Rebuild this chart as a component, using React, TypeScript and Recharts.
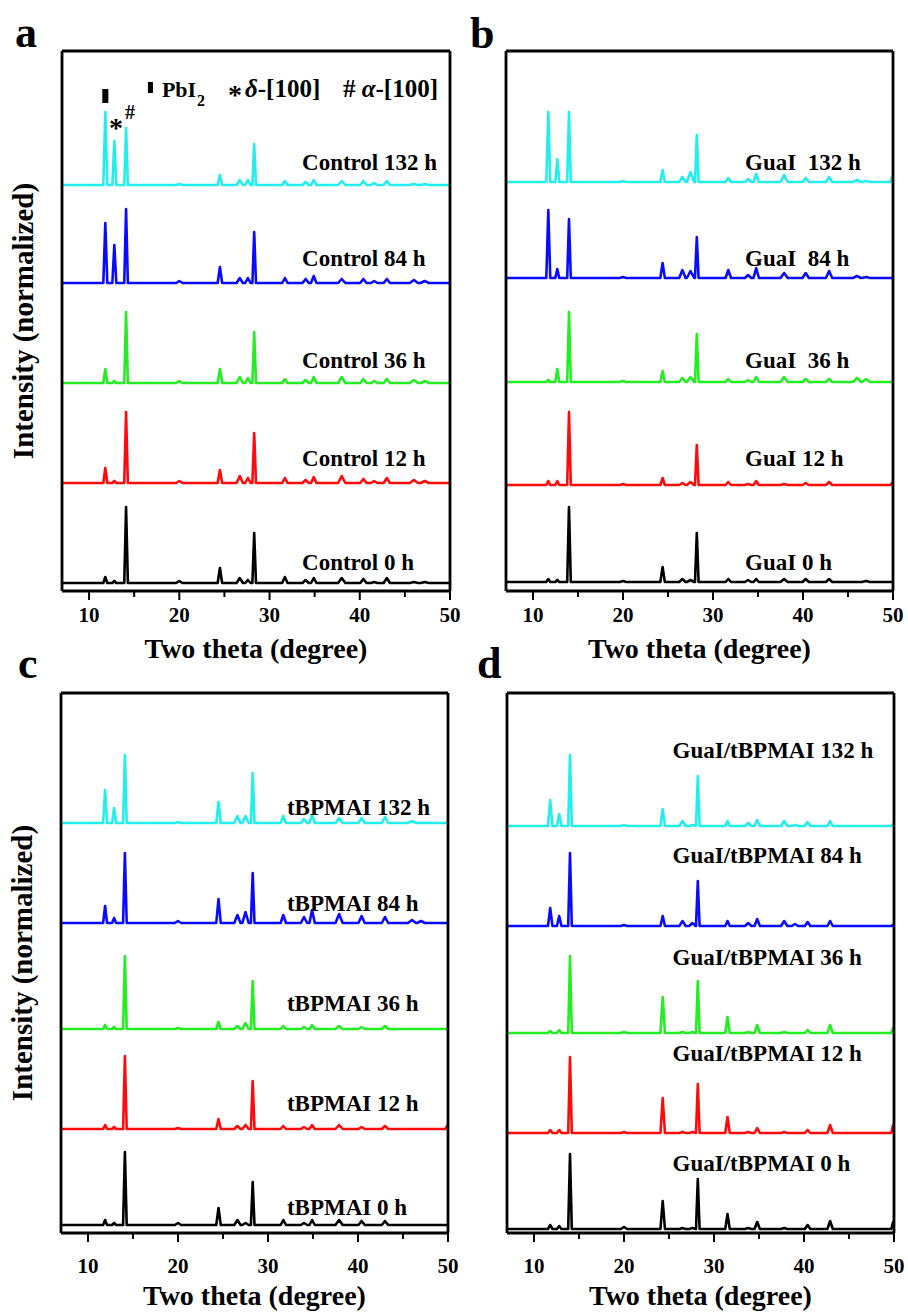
import React from 'react'
import { LineChart, Line, XAxis, YAxis, ReferenceDot } from 'recharts'

const FONT = "'Liberation Serif', 'Times New Roman', Times, serif"

const X_DOMAIN = [7, 50]
const Y_DOMAIN = [0, 54]
const X_TICKS = [10, 15, 20, 25, 30, 35, 40, 45, 50]

// black, red, green, blue, cyan = 0 h, 12 h, 36 h, 84 h, 132 h
const COLORS = ['#000000', '#ff0a0a', '#22ee22', '#0a0aff', '#22eeee']

// ---- panel a : Control ----
const THETA_A = [11.8, 12.8, 14.1, 20.0, 24.5, 26.7, 27.6, 28.3, 31.7, 34.0, 34.9, 38.0, 40.4, 41.6, 43.0, 46.0, 47.2]
const HW_A = [0.22, 0.22, 0.2, 0.35, 0.25, 0.35, 0.3, 0.2, 0.3, 0.35, 0.3, 0.4, 0.35, 0.35, 0.35, 0.45, 0.45]
const CONTROL_0 = [0.6, 0.2, 7.6, 0.2, 1.5, 0.5, 0.3, 5.0, 0.6, 0.3, 0.5, 0.5, 0.4, 0.1, 0.5, 0.1, 0.1]
const CONTROL_12 = [1.5, 0.2, 7.1, 0.2, 1.3, 0.7, 0.5, 5.0, 0.5, 0.3, 0.6, 0.7, 0.4, 0.2, 0.5, 0.3, 0.2]
const CONTROL_36 = [1.4, 0.2, 7.1, 0.2, 1.4, 0.6, 0.5, 5.1, 0.4, 0.3, 0.6, 0.6, 0.4, 0.2, 0.4, 0.3, 0.2]
const CONTROL_84 = [6.0, 3.8, 7.4, 0.2, 1.6, 0.5, 0.5, 5.1, 0.5, 0.4, 0.7, 0.4, 0.4, 0.2, 0.4, 0.3, 0.2]
const CONTROL_132 = [7.3, 4.4, 5.7, 0.1, 1.0, 0.5, 0.5, 4.1, 0.4, 0.3, 0.5, 0.4, 0.4, 0.2, 0.4, 0.1, 0.1]
const BASE_A = [0.8, 10.8, 20.8, 30.8, 40.6]
const NAMES_A = ['Control 0 h', 'Control 12 h', 'Control 36 h', 'Control 84 h', 'Control 132 h']
const LABEL_Y_A = [2.9, 13.3, 23.1, 33.3, 42.9]

// ---- panel b : GuaI ----
const THETA_B = [11.7, 12.7, 14.0, 20.0, 24.4, 26.6, 27.5, 28.2, 31.7, 33.9, 34.8, 37.9, 40.3, 42.9, 46.0, 47.0, 49.9]
const HW_B = [0.22, 0.22, 0.2, 0.35, 0.25, 0.35, 0.4, 0.2, 0.3, 0.35, 0.3, 0.4, 0.35, 0.35, 0.45, 0.45, 0.2]
const GUAI_0 = [0.3, 0.2, 7.5, 0.1, 1.5, 0.3, 0.2, 4.9, 0.3, 0.2, 0.3, 0.3, 0.3, 0.3, 0.0, 0.1, 0.0]
const GUAI_12 = [0.4, 0.4, 7.3, 0.1, 0.7, 0.2, 0.3, 4.0, 0.3, 0.1, 0.4, 0.1, 0.2, 0.3, 0.0, 0.0, 0.2]
const GUAI_36 = [0.2, 1.3, 7.0, 0.1, 1.1, 0.4, 0.5, 4.8, 0.3, 0.2, 0.5, 0.5, 0.3, 0.3, 0.4, 0.3, 0.0]
const GUAI_84 = [6.8, 0.9, 5.9, 0.1, 1.5, 0.8, 0.7, 4.1, 0.8, 0.3, 1.0, 0.5, 0.5, 0.7, 0.2, 0.1, 0.0]
const GUAI_132 = [7.0, 2.3, 7.0, 0.1, 1.2, 0.5, 1.0, 4.7, 0.4, 0.3, 0.8, 0.7, 0.4, 0.5, 0.2, 0.1, 0.5]
const BASE_B = [0.9, 10.6, 20.9, 31.3, 40.9]
const NAMES_B = ['GuaI 0 h', 'GuaI 12 h', 'GuaI  36 h', 'GuaI  84 h', 'GuaI  132 h']
const LABEL_Y_B = [2.9, 13.3, 23.1, 33.3, 42.9]

// ---- panel c : tBPMAI ----
const THETA_C = [11.9, 12.9, 14.1, 20.0, 24.5, 26.6, 27.5, 28.3, 31.7, 34.0, 34.9, 37.9, 40.4, 43.0, 46.0, 47.0, 49.9]
const HW_C = [0.22, 0.22, 0.2, 0.35, 0.25, 0.35, 0.35, 0.2, 0.3, 0.35, 0.3, 0.4, 0.35, 0.35, 0.45, 0.45, 0.2]
const TBPMAI_0 = [0.5, 0.2, 7.3, 0.2, 1.7, 0.5, 0.2, 4.3, 0.5, 0.2, 0.5, 0.5, 0.4, 0.4, 0.0, 0.0, 0.0]
const TBPMAI_12 = [0.4, 0.2, 7.3, 0.1, 1.0, 0.3, 0.4, 4.8, 0.3, 0.2, 0.4, 0.4, 0.2, 0.3, 0.0, 0.0, 0.3]
const TBPMAI_36 = [0.4, 0.2, 7.3, 0.1, 0.7, 0.3, 0.6, 4.8, 0.3, 0.2, 0.4, 0.3, 0.2, 0.3, 0.0, 0.0, 0.0]
const TBPMAI_84 = [1.7, 0.5, 7.0, 0.2, 2.4, 0.8, 1.1, 5.0, 0.8, 0.6, 1.3, 0.9, 0.7, 0.6, 0.3, 0.2, 0.0]
const TBPMAI_132 = [3.3, 1.5, 6.8, 0.1, 2.1, 0.7, 0.7, 5.0, 0.7, 0.4, 0.8, 0.5, 0.5, 0.6, 0.2, 0.0, 0.0]
const BASE_C = [0.8, 10.4, 20.4, 31.0, 41.0]
const NAMES_C = ['tBPMAI 0 h', 'tBPMAI 12 h', 'tBPMAI 36 h', 'tBPMAI 84 h', 'tBPMAI 132 h']
const LABEL_Y_C = [2.6, 13.0, 23.0, 33.0, 42.6]

// ---- panel d : GuaI/tBPMAI ----
const THETA_D = [11.8, 12.8, 14.0, 20.0, 24.3, 26.5, 27.6, 28.2, 31.5, 33.8, 34.8, 37.8, 39.0, 40.4, 42.9, 49.9]
const HW_D = [0.25, 0.25, 0.2, 0.35, 0.25, 0.35, 0.35, 0.2, 0.25, 0.35, 0.3, 0.35, 0.35, 0.3, 0.3, 0.2]
const BOTH_0 = [0.4, 0.3, 7.5, 0.2, 2.8, 0.1, 0.1, 5.0, 1.5, 0.1, 0.7, 0.1, 0.0, 0.4, 0.8, 0.7]
const BOTH_12 = [0.3, 0.3, 7.6, 0.1, 3.5, 0.1, 0.1, 4.9, 1.6, 0.1, 0.5, 0.1, 0.0, 0.3, 0.8, 0.8]
const BOTH_36 = [0.2, 0.3, 7.7, 0.1, 3.6, 0.1, 0.1, 5.2, 1.6, 0.1, 0.8, 0.1, 0.0, 0.3, 0.8, 0.5]
const BOTH_84 = [1.8, 1.0, 7.3, 0.1, 1.0, 0.5, 0.3, 4.5, 0.5, 0.3, 0.7, 0.5, 0.2, 0.4, 0.5, 0.1]
const BOTH_132 = [2.6, 1.2, 7.1, 0.1, 1.7, 0.5, 0.1, 5.0, 0.5, 0.3, 0.6, 0.5, 0.1, 0.4, 0.5, 0.2]
const BASE_D = [0.4, 10.0, 20.0, 30.7, 40.7]
const NAMES_D = ['GuaI/tBPMAI 0 h', 'GuaI/tBPMAI 12 h', 'GuaI/tBPMAI 36 h', 'GuaI/tBPMAI 84 h', 'GuaI/tBPMAI 132 h']
const LABEL_Y_D = [7.0, 18.0, 27.6, 37.8, 48.3]

// one pattern: flat baseline with a narrow peak at every reflection
function buildTrace(theta: number[], halfw: number[], heights: number[], base: number) {
  const pts = [{ x: 7, y: base }]
  theta.forEach((t, i) => {
    const h = heights[i]
    if (!h) return
    pts.push({ x: Math.max(7, t - halfw[i]), y: base })
    pts.push({ x: t, y: base + h })
    pts.push({ x: Math.min(50, t + halfw[i]), y: base })
  })
  pts.push({ x: 50, y: base })
  return pts
}

const AXIS_LINE = { stroke: '#000', strokeWidth: 2.8 }

const makeTick = (labelDy: number) => (props: any) => {
  const { x, y, payload } = props
  const major = payload.value % 10 === 0
  return (
    <g>
      <line x1={x} x2={x} y1={y} y2={y + (major ? 9 : 6)} stroke="#000" strokeWidth={2} />
      {major && (
        <text x={x} y={y + labelDy} textAnchor="middle" fontSize={21} fontWeight="bold" fontFamily={FONT} fill="#000">
          {payload.value}
        </text>
      )}
    </g>
  )
}

const makeTitle = (dy: number) => (props: any) => {
  const vb = props.viewBox
  return (
    <text x={vb.x + vb.width / 2} y={vb.y + dy} textAnchor="middle" fontSize={28} fontWeight="bold" fontFamily={FONT} fill="#000">
      Two theta (degree)
    </text>
  )
}

const yLabel = (props: any) => {
  const vb = props.viewBox
  const cx = vb.x + 33
  const cy = vb.y + vb.height / 2
  return (
    <text x={cx} y={cy} transform={`rotate(-90 ${cx} ${cy})`} textAnchor="middle" fontSize={29} fontWeight="bold" fontFamily={FONT} fill="#000">
      Intensity (normalized)
    </text>
  )
}

const traceLabel = (text: string) => (props: any) => {
  const vb = props.viewBox
  return (
    <text x={vb.x} y={vb.y + 8} fontSize={23} fontWeight="bold" fontFamily={FONT} fill="#000" style={{ whiteSpace: 'pre' }}>
      {text}
    </text>
  )
}

const phaseLegend = (props: any) => {
  const { x: cx, y: cy } = props.viewBox
  const t = { fontWeight: 'bold' as const, fontFamily: FONT, fill: '#000' }
  return (
    <g>
      <rect x={cx - 2.5} y={cy - 5.5} width={5} height={11} fill="#000" />
      <text x={cx + 11.5} y={cy + 9.5} fontSize={22} {...t}>PbI</text>
      <text x={cx + 46.5} y={cy + 18} fontSize={16} {...t}>2</text>
      <text x={cx + 84.5} y={cy + 16} fontSize={28} textAnchor="middle" {...t}>*</text>
      <text x={cx + 94.5} y={cy + 9.5} fontSize={25} {...t}>
        <tspan fontStyle="italic">δ</tspan>-[100]
      </text>
      <text x={cx + 192.5} y={cy + 9.5} fontSize={25} {...t} style={{ whiteSpace: 'pre' }}>
        {'# '}<tspan fontStyle="italic">α</tspan>-[100]
      </text>
    </g>
  )
}

const squareMark = (props: any) => {
  const { x, y } = props.viewBox
  return <rect x={x - 3} y={y - 7} width={6} height={14} fill="#000" />
}

const textMark = (ch: string, size: number, dy: number) => (props: any) => {
  const { x, y } = props.viewBox
  return (
    <text x={x} y={y + dy} textAnchor="middle" fontSize={size} fontWeight="bold" fontFamily={FONT} fill="#000">
      {ch}
    </text>
  )
}

interface PanelProps {
  left: number
  top: number
  rightMargin: number
  theta: number[]
  halfw: number[]
  series: number[][]
  bases: number[]
  names: string[]
  labelX: number
  labelY: number[]
  showYLabel?: boolean
  tickDy: number
  titleDy: number
  children?: React.ReactNode
}

function Panel({ left, top, rightMargin, theta, halfw, series, bases, names, labelX, labelY, showYLabel, tickDy, titleDy, children }: PanelProps) {
  return (
    <div style={{ position: 'absolute', left, top }}>
      <LineChart width={470} height={671} margin={{ top: 50, right: rightMargin, bottom: 0, left: 0 }}>
        <XAxis
          dataKey="x"
          type="number"
          domain={X_DOMAIN}
          allowDataOverflow
          ticks={X_TICKS}
          interval={0}
          tickSize={0}
          tickMargin={0}
          tickLine={false}
          tick={makeTick(tickDy)}
          axisLine={AXIS_LINE}
          height={80}
          label={makeTitle(titleDy)}
        />
        <XAxis xAxisId="top" orientation="top" type="number" domain={X_DOMAIN} allowDataOverflow height={1} tick={false} tickLine={false} axisLine={AXIS_LINE} />
        <YAxis
          type="number"
          domain={Y_DOMAIN}
          allowDataOverflow
          width={62}
          tick={false}
          tickLine={false}
          axisLine={AXIS_LINE}
          label={showYLabel ? yLabel : undefined}
        />
        <YAxis yAxisId="right" orientation="right" type="number" domain={Y_DOMAIN} allowDataOverflow width={1} tick={false} tickLine={false} axisLine={AXIS_LINE} />
        {series.map((h, i) => (
          <Line
            key={names[i]}
            data={buildTrace(theta, halfw, h, bases[i])}
            dataKey="y"
            type="linear"
            stroke={COLORS[i]}
            strokeWidth={2.6}
            strokeLinejoin="round"
            dot={false}
            activeDot={false}
            isAnimationActive={false}
          />
        ))}
        {names.map((n, i) => (
          <ReferenceDot key={'lbl' + n} x={labelX} y={labelY[i]} r={0} fill="none" stroke="none" label={traceLabel(n)} />
        ))}
        {children}
      </LineChart>
    </div>
  )
}

export default function App() {
  return (
    <div style={{ position: 'absolute', left: 0, top: 0, width: 908, height: 1314, overflow: 'hidden', background: '#fff' }}>
      <Panel
        left={0}
        top={0}
        rightMargin={19}
        theta={THETA_A}
        halfw={HW_A}
        series={[CONTROL_0, CONTROL_12, CONTROL_36, CONTROL_84, CONTROL_132]}
        bases={BASE_A}
        names={NAMES_A}
        labelX={33.6}
        labelY={LABEL_Y_A}
        showYLabel
        tickDy={31}
        titleDy={67}
      >
        <ReferenceDot x={16.8} y={50.35} r={0} fill="none" stroke="none" label={phaseLegend} />
        <ReferenceDot x={11.8} y={49.5} r={0} fill="none" stroke="none" label={squareMark} />
        <ReferenceDot x={12.99} y={46.7} r={0} fill="none" stroke="none" label={textMark('*', 28, 13)} />
        <ReferenceDot x={14.54} y={47.8} r={0} fill="none" stroke="none" label={textMark('#', 20, 6)} />
      </Panel>
      <Panel
        left={444}
        top={0}
        rightMargin={20}
        theta={THETA_B}
        halfw={HW_B}
        series={[GUAI_0, GUAI_12, GUAI_36, GUAI_84, GUAI_132]}
        bases={BASE_B}
        names={NAMES_B}
        labelX={33.56}
        labelY={LABEL_Y_B}
        tickDy={31}
        titleDy={67}
      />
      <Panel
        left={-1}
        top={642}
        rightMargin={20}
        theta={THETA_C}
        halfw={HW_C}
        series={[TBPMAI_0, TBPMAI_12, TBPMAI_36, TBPMAI_84, TBPMAI_132]}
        bases={BASE_C}
        names={NAMES_C}
        labelX={32.1}
        labelY={LABEL_Y_C}
        showYLabel
        tickDy={40}
        titleDy={72}
      />
      <Panel
        left={445}
        top={642}
        rightMargin={20}
        theta={THETA_D}
        halfw={HW_D}
        series={[BOTH_0, BOTH_12, BOTH_36, BOTH_84, BOTH_132]}
        bases={BASE_D}
        names={NAMES_D}
        labelX={25.4}
        labelY={LABEL_Y_D}
        tickDy={40}
        titleDy={72}
      />
      <svg width={908} height={1314} style={{ position: 'absolute', left: 0, top: 0, pointerEvents: 'none' }}>
        <g fontFamily={FONT} fontWeight="bold" fontSize={44} fill="#000">
          <text x={15} y={47}>a</text>
          <text x={470} y={48}>b</text>
          <text x={18} y={678}>c</text>
          <text x={477} y={678}>d</text>
        </g>
      </svg>
    </div>
  )
}
